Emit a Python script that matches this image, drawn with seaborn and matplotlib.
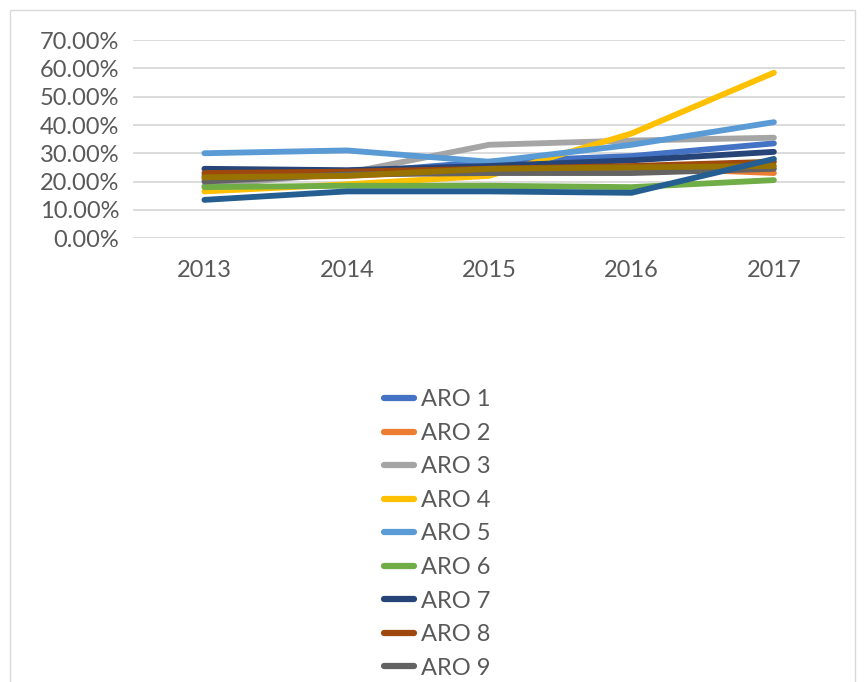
import matplotlib
matplotlib.use("Agg")
import matplotlib.pyplot as plt
import matplotlib.patches as mpatches
import matplotlib.ticker as mticker
import pandas as pd
import seaborn as sns

years = ["2013", "2014", "2015", "2016", "2017"]
series_names = ["ARO 1", "ARO 2", "ARO 3", "ARO 4", "ARO 5", "ARO 6",
                "ARO 7", "ARO 8", "ARO 9", "ARO 10", "ARO 11"]

aro1 = [0.220, 0.230, 0.270, 0.290, 0.335]
aro2 = [0.210, 0.220, 0.240, 0.250, 0.230]
aro3 = [0.185, 0.230, 0.330, 0.345, 0.355]
aro4 = [0.165, 0.190, 0.220, 0.370, 0.585]
aro5 = [0.300, 0.310, 0.270, 0.330, 0.410]
aro6 = [0.180, 0.185, 0.185, 0.180, 0.205]
aro7 = [0.245, 0.240, 0.255, 0.275, 0.305]
aro8 = [0.230, 0.235, 0.245, 0.255, 0.270]
aro9 = [0.200, 0.225, 0.230, 0.230, 0.245]
aro10 = [0.215, 0.220, 0.245, 0.250, 0.255]
aro11 = [0.135, 0.165, 0.165, 0.160, 0.280]

all_values = [aro1, aro2, aro3, aro4, aro5, aro6, aro7, aro8, aro9, aro10, aro11]

colors = ["#4472C4", "#ED7D31", "#A5A5A5", "#FFC000", "#5B9BD5", "#70AD47",
          "#264478", "#9E480E", "#636363", "#997300", "#255E91"]

# only the first nine legend entries fit inside the picture
legend_shown = 9

rows = []
for name, vals in zip(series_names, all_values):
    for i, v in enumerate(vals):
        rows.append({"x": i, "value": v, "series": name})
df = pd.DataFrame(rows)

sns.set_style("white")
plt.rcParams["font.family"] = ["Lato", "DejaVu Sans"]
text_color = "#595959"

fig = plt.figure(figsize=(8.65, 6.82), dpi=100)
ax = fig.add_axes([0.154, 0.651, 0.823, 0.290])

sns.lineplot(data=df, x="x", y="value", hue="series", hue_order=series_names,
             palette=colors, linewidth=4.2, ax=ax, legend=True)

ax.set_xlim(-0.5, 4.5)
ax.set_ylim(0, 0.70)
ax.set_yticks([i / 10 for i in range(8)])
ax.yaxis.set_major_formatter(mticker.FuncFormatter(lambda v, p: f"{v * 100:.2f}%"))
ax.set_xticks(range(len(years)))
ax.set_xticklabels(years)
ax.grid(axis="y", color="#D9D9D9", linewidth=1.3)
ax.set_axisbelow(True)
for s in ax.spines.values():
    s.set_visible(False)
ax.tick_params(axis="both", length=0, labelsize=17, colors=text_color)
ax.tick_params(axis="x", pad=16)
ax.tick_params(axis="y", pad=10)
ax.set_xlabel("")
ax.set_ylabel("")

handles, labels = ax.get_legend_handles_labels()
for h in handles:
    h.set_linewidth(4.5)
ax.legend(handles[:legend_shown], labels[:legend_shown], loc="upper left",
          bbox_to_anchor=(0.444, 0.429),
          bbox_transform=fig.transFigure, frameon=False, fontsize=17,
          labelcolor=text_color, handlelength=1.25, handletextpad=0.3,
          labelspacing=0.53, borderaxespad=0, borderpad=0)

fig.patches.append(mpatches.Rectangle((0.012, -0.01), 0.976, 0.996,
                                      transform=fig.transFigure, fill=False,
                                      edgecolor="#D9D9D9", linewidth=1))

fig.savefig("out.png", dpi=100)
